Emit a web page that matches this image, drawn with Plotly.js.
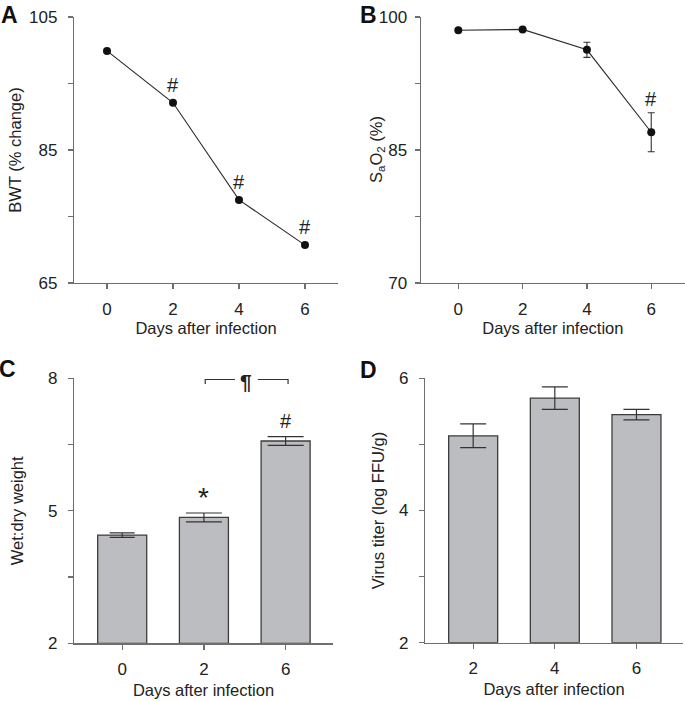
<!DOCTYPE html>
<html>
<head>
<meta charset="utf-8">
<script src="https://cdn.plot.ly/plotly-3.0.1.min.js"></script>
<style>html,body{margin:0;padding:0;background:#fff;}#chart{width:685px;height:701px;}</style>
</head>
<body>
<div id="chart"></div>
<script>
// ---- Data ----
var bwtDays = [0, 2, 4, 6];
var bwtChange = [99.9, 92.1, 77.5, 70.7];
var bwtMarks = ['', '#', '#', '#'];

var saDays = [0, 2, 4, 6];
var saO2 = [98.5, 98.6, 96.3, 87.0];
var saO2Err = [0, 0, 0.85, 2.2];
var saMarks = ['', '', '', '#'];

var wdDays = ['0', '2', '6'];
var wdRatio = [4.45, 4.85, 6.58];
var wdErr = [0.05, 0.10, 0.10];
var wdMarks = ['', '*', '#'];

var vtDays = ['2', '4', '6'];
var vtTiter = [5.13, 5.70, 5.45];
var vtErr = [0.18, 0.17, 0.08];

var yTicksA = [65, 85, 105];
var yTicksB = [70, 85, 100];
var yTicksC = [2, 5, 8];
var yTicksD = [2, 4, 6];

// ---- Styling ----
var W = 685, H = 701;
function px(x) { return x / W; }
function py(y) { return 1 - y / H; }
var axisCol = '#6e6e6e';
var txtCol = '#222222';
var FONT = 'Liberation Sans, Arial, Helvetica, sans-serif';
var barFill = '#bcbdc0';
var barLine = '#3c3c3c';

function axBase(extra) {
  var a = {
    showline: true, linecolor: axisCol, linewidth: 1.2,
    ticks: 'outside', ticklen: 5, tickcolor: axisCol, tickwidth: 1.2,
    showgrid: false, zeroline: false, fixedrange: true,
    tickfont: {size: 17, color: txtCol, family: FONT}
  };
  for (var k in extra) a[k] = extra[k];
  return a;
}
function minorTicks(t0, dt) {
  return {tick0: t0, dtick: dt, ticks: 'outside', ticklen: 5, tickcolor: axisCol, tickwidth: 1.2, showgrid: false};
}

var traces = [];
// A
traces.push({
  x: bwtDays, y: bwtChange, xaxis: 'x', yaxis: 'y', type: 'scatter', mode: 'lines+markers',
  line: {color: '#2a2a2a', width: 1.1}, marker: {color: '#111', size: 8}
});
// B
traces.push({
  x: saDays, y: saO2, xaxis: 'x2', yaxis: 'y2', type: 'scatter', mode: 'lines+markers',
  line: {color: '#2a2a2a', width: 1.1}, marker: {color: '#111', size: 8},
  error_y: {type: 'data', array: saO2Err, visible: true, color: '#333', thickness: 1.1, width: 3.5}
});
// C bars (drawn from the axis floor of 2)
traces.push({
  x: wdDays, y: wdRatio.map(function (v) { return v - 2; }), base: 2,
  xaxis: 'x3', yaxis: 'y3', type: 'bar', width: 0.6,
  marker: {color: barFill, line: {color: barLine, width: 1.3}}
});
// C error bars (one per bar, cap widths differ)
var wdCap = [12.5, 18, 18];
for (var i = 0; i < wdDays.length; i++) {
  traces.push({
    x: [wdDays[i]], y: [wdRatio[i]], xaxis: 'x3', yaxis: 'y3', type: 'scatter', mode: 'markers',
    marker: {size: 1, opacity: 0}, hoverinfo: 'skip',
    error_y: {type: 'data', array: [wdErr[i]], visible: true, color: '#333', thickness: 1.2, width: wdCap[i]}
  });
}
// D bars
traces.push({
  x: vtDays, y: vtTiter.map(function (v) { return v - 2; }), base: 2,
  xaxis: 'x4', yaxis: 'y4', type: 'bar', width: 0.6,
  marker: {color: barFill, line: {color: barLine, width: 1.3}}
});
traces.push({
  x: vtDays, y: vtTiter, xaxis: 'x4', yaxis: 'y4', type: 'scatter', mode: 'markers',
  marker: {size: 1, opacity: 0}, hoverinfo: 'skip',
  error_y: {type: 'data', array: vtErr, visible: true, color: '#333', thickness: 1.2, width: 13}
});

var annotations = [];
function addMark(xr, yr, x, y, t, shift, size) {
  annotations.push({xref: xr, yref: yr, x: x, y: y, text: t, showarrow: false,
    yshift: shift, font: {size: size, color: txtCol, family: FONT}});
}
for (var a = 0; a < bwtDays.length; a++) if (bwtMarks[a]) addMark('x', 'y', bwtDays[a], bwtChange[a], bwtMarks[a], 18, 20);
for (var b = 0; b < saDays.length; b++) if (saMarks[b]) addMark('x2', 'y2', saDays[b], saO2[b] + saO2Err[b], saMarks[b], 14, 20);
for (var c = 0; c < wdDays.length; c++) {
  if (wdMarks[c] === '*') addMark('x3', 'y3', c, wdRatio[c] + wdErr[c], '*', 16, 28);
  else if (wdMarks[c]) addMark('x3', 'y3', c, wdRatio[c] + wdErr[c], wdMarks[c], 16, 20);
}
// bracket symbol
annotations.push({xref: 'x3', yref: 'paper', x: 1.52, y: py(382), text: '<b>¶</b>', showarrow: false,
  font: {size: 21, color: txtCol, family: FONT}});

// panel B y-axis title (sits close to its tick labels, as in the source)
annotations.push({xref: 'paper', yref: 'paper', x: px(377), y: py(150), textangle: -90,
  text: 'S<sub>a</sub>O<sub>2</sub> (%)', showarrow: false, xanchor: 'center', yanchor: 'middle',
  font: {size: 16.5, color: txtCol, family: FONT}});

// panel letters
var letters = [['A', 9, 15], ['B', 368, 15], ['C', 8, 369], ['D', 368, 370]];
letters.forEach(function (L) {
  annotations.push({xref: 'paper', yref: 'paper', x: px(L[1]), y: py(L[2]), text: '<b>' + L[0] + '</b>',
    showarrow: false, xanchor: 'center', yanchor: 'middle', font: {size: 23, color: '#111', family: FONT}});
});

var shapes = [
  {type: 'path', xref: 'x3', yref: 'paper', path: 'M 1.016 ' + py(384) + ' L 1.016 ' + py(379.5) + ' L 1.38 ' + py(379.5),
    line: {color: '#333', width: 1.2}},
  {type: 'path', xref: 'x3', yref: 'paper', path: 'M 1.66 ' + py(379.5) + ' L 2.03 ' + py(379.5) + ' L 2.03 ' + py(384),
    line: {color: '#333', width: 1.2}}
];

var titleFont = {size: 16.5, color: txtCol, family: FONT};
var layout = {
  width: W, height: H, margin: {l: 0, r: 0, t: 0, b: 0},
  paper_bgcolor: '#fff', plot_bgcolor: '#fff', showlegend: false, barmode: 'overlay',
  font: {family: FONT, color: txtCol},
  xaxis: axBase({domain: [px(74), px(338)], anchor: 'y', range: [-1, 7], tickvals: [0, 2, 4, 6],
    ticklabelstandoff: 5, title: {text: 'Days after infection', font: titleFont, standoff: 0}}),
  yaxis: axBase({domain: [py(283), py(17)], anchor: 'x', range: [65, 105], tickvals: yTicksA,
    minor: minorTicks(65, 10), ticklabelstandoff: 7,
    title: {text: 'BWT (% change)', font: titleFont, standoff: 3}}),
  xaxis2: axBase({domain: [px(420.7), 1], anchor: 'y2', range: [-1.17, 7.05], tickvals: [0, 2, 4, 6],
    ticklabelstandoff: 5, title: {text: 'Days after infection', font: titleFont, standoff: 0}}),
  yaxis2: axBase({domain: [py(283), py(17)], anchor: 'x2', range: [70, 100], tickvals: yTicksB,
    minor: minorTicks(70, 7.5), ticklabelstandoff: 4}),
  xaxis3: axBase({domain: [px(74), px(333)], anchor: 'y3', type: 'category', range: [-0.59, 2.58],
    ticklabelstandoff: 5, title: {text: 'Days after infection', font: titleFont, standoff: 6}}),
  yaxis3: axBase({domain: [py(643.3), py(378.3)], anchor: 'x3', range: [2, 8], tickvals: yTicksC,
    minor: minorTicks(2, 1.5), ticklabelstandoff: 7,
    title: {text: 'Wet:dry weight', font: titleFont, standoff: 20}}),
  xaxis4: axBase({domain: [px(425), px(683)], anchor: 'y4', type: 'category', range: [-0.59, 2.57],
    ticklabelstandoff: 5, title: {text: 'Days after infection', font: titleFont, standoff: 6}}),
  yaxis4: axBase({domain: [py(642.7), py(378.3)], anchor: 'x4', range: [2, 6], tickvals: yTicksD,
    minor: minorTicks(2, 1), ticklabelstandoff: 7,
    title: {text: 'Virus titer (log FFU/g)', font: titleFont, standoff: 10}}),
  annotations: annotations,
  shapes: shapes
};

Plotly.newPlot('chart', traces, layout, {displayModeBar: false, staticPlot: true});
</script>
</body>
</html>
